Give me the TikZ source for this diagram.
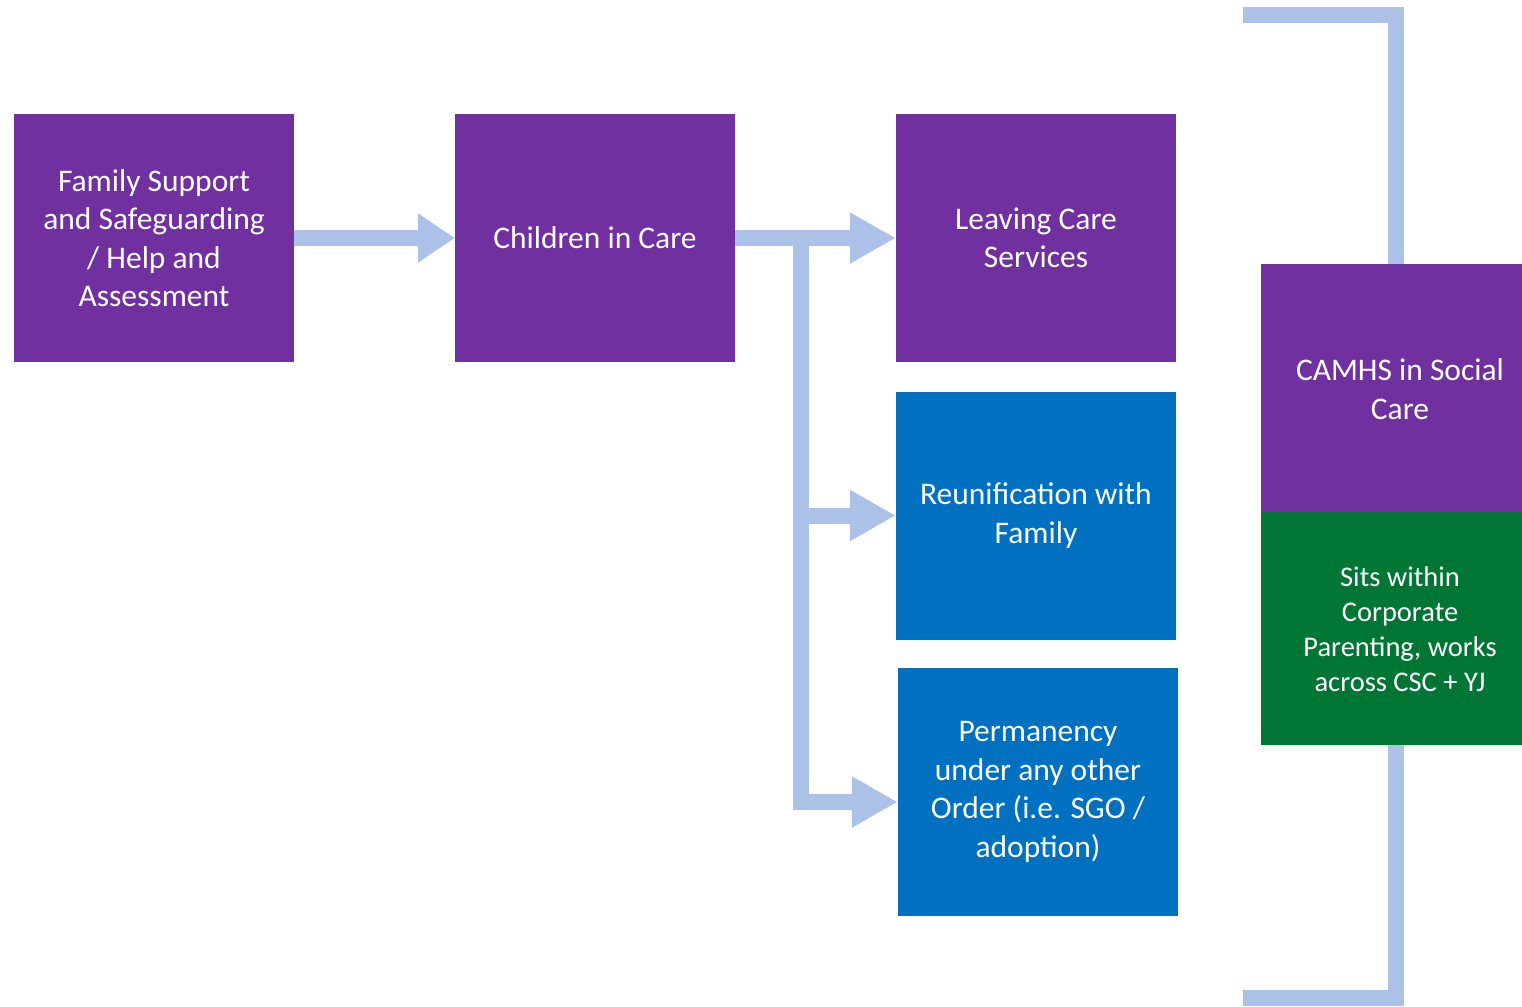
\documentclass[tikz,border=0pt]{standalone}
\usepackage{fontspec}
\setmainfont{Carlito}
\usetikzlibrary{arrows.meta,calc}
\definecolor{cpurple}{HTML}{7030A0}
\definecolor{cblue}{HTML}{0070C0}
\definecolor{cgreen}{HTML}{007635}
\definecolor{clight}{HTML}{ACC1E8}
\begin{document}
\begin{tikzpicture}[x=1pt,y=-1pt,
  box/.style={rectangle, inner sep=0pt, minimum width=280pt, minimum height=248pt,
    text=white, align=center, font=\fontsize{31.5}{38.5}\selectfont},
  boxtext/.style={inner sep=0pt, text=white, align=center, font=\fontsize{31.5}{38.5}\selectfont},
  smalltext/.style={inner sep=0pt, text=white, align=center, font=\fontsize{28.5}{35}\selectfont},
  conn/.style={draw=clight, line width=16pt, line join=miter},
  tipA/.style={-{Triangle[width=47pt,length=37pt]}},
  tipB/.style={-{Triangle[width=48pt,length=46pt]}}]
\useasboundingbox (0,0) rectangle (1522,1006);

% bracket on the right (behind the boxes)
\coordinate (bt) at (1243,15);
\coordinate (bb) at (1243,998);
\draw[conn] (bt) -- (1396,15) -- (1396,998) -- (bb);

% boxes
\node[box, fill=cpurple] (fs) at (154,238) {Family Support\\and Safeguarding\\/ Help and\\Assessment};
\node[box, fill=cpurple] (cic) at (595,238) {Children in Care};
\node[box, fill=cpurple] (lc) at (1036,238) {Leaving Care\\Services};
\node[box, fill=cblue] (rf) at (1036,515.5) {Reunification with\\Family};
\node[box, fill=cblue] (po) at (1038,792) {Permanency\\under any other\\Order (i.e. SGO /\\adoption)};
\node[box, fill=cpurple, minimum width=261pt] (camhs) at (1391.5,388) {};
\node[boxtext] (camhst) at (1400,389) {CAMHS in Social\\Care};
\node[box, fill=cgreen, minimum width=261pt, minimum height=233pt] (sits) at (1391.5,628.5) {};
\node[smalltext] (sitst) at (1400,629.5) {Sits within\\Corporate\\Parenting, works\\across CSC + YJ};

% connectors
\draw[conn, tipA] (fs.east) -- (cic.west);
\draw[conn, tipB] (cic.east) -- (lc.west);
\coordinate (j) at (801,238);
\coordinate (pa) at ($(po.west)+(0,10)$);
\draw[conn, tipB] (j) |- (pa);
\draw[conn, tipB] (j |- rf.west) -- (rf.west);
\end{tikzpicture}
\end{document}
